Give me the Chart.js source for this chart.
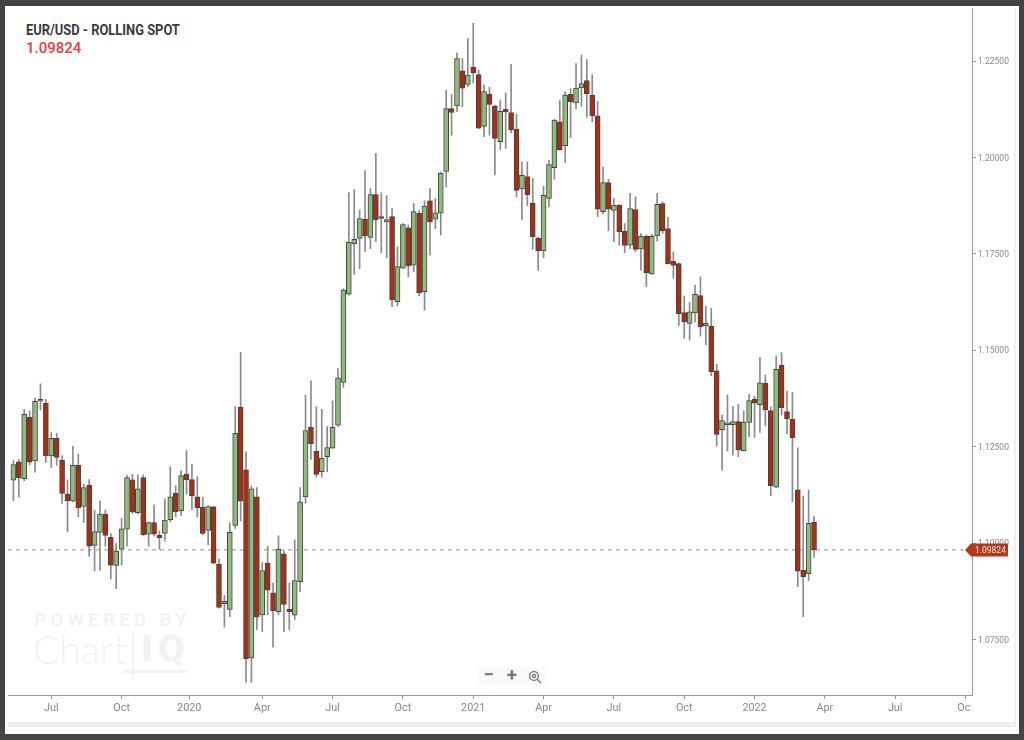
<!DOCTYPE html>
<html lang="en">
<head>
    <meta charset="UTF-8">
    <title>EUR/USD - Rolling Spot</title>
    <script src="https://cdn.jsdelivr.net/npm/chart.js"></script>
    <style>
        html, body { margin: 0; padding: 0; background: #444; }
        body { width: 1024px; height: 740px; overflow: hidden; position: relative; font-family: Roboto, sans-serif; }
        .frame { position: absolute; left: 5px; top: 6px; width: 1014px; height: 728px; background: #fff; }
        .strip { position: absolute; background: #f0f0f0; }
        .title { position: absolute; left: 26px; top: 21px; font-size: 15px; font-weight: 700; color: #3a3a3a; white-space: nowrap; transform: scaleX(0.86); transform-origin: left top; }
        .last { position: absolute; left: 26px; top: 39px; font-size: 15px; font-weight: 500; color: #e8403c; }
        .wm { position: absolute; color: #f3f3f3; white-space: nowrap; }
        .zoom { position: absolute; left: 478px; top: 667px; width: 68px; height: 18px; background: #fafafa; border-radius: 2px; color: #777; }
        .zoom span { position: absolute; top: -2px; width: 22px; text-align: center; font-size: 19px; font-weight: 700; line-height: 20px; }
        .zoom svg { position: absolute; left: 50px; top: 3px; }
        canvas { position: absolute; left: 0; top: 0; }
    </style>
</head>
<body>
    <div class="frame"></div>
    <div class="strip" style="left:8px;top:722px;width:1006px;height:5px"></div>
    <div class="strip" style="left:1014px;top:8px;width:2px;height:719px"></div>
    <div class="wm" style="left:34px;top:608px;font-size:19px;font-weight:700;letter-spacing:4.1px;">POWERED BY</div>
    <div class="wm" style="left:33px;top:626px;font-size:39px;font-weight:300;font-family:Lato,sans-serif;">Chart</div>
    <div class="wm" style="left:141px;top:626px;font-size:39px;font-weight:900;letter-spacing:5px;">IQ</div>
    <div class="wm" style="left:132px;top:634px;width:2px;height:46px;background:#f3f3f3;"></div>
    <div class="wm" style="left:123px;top:670px;width:64px;height:3px;background:#f3f3f3;"></div>
    <div class="title">EUR/USD - ROLLING SPOT</div>
    <div class="last">1.09824</div>
    <canvas id="chart" width="1024" height="740"></canvas>
    <div class="zoom">
        <span style="left:0">−</span>
        <span style="left:23px">+</span>
        <svg width="14" height="14" viewBox="0 0 14 14" fill="none" stroke="#777" stroke-width="1.4"><circle cx="6" cy="6" r="4.4"/><circle cx="6" cy="6" r="1.6"/><path d="M9.4 9.4 L13 13"/></svg>
    </div>

    <script>
        const lastPrice = 1.09824;

        const opens = [
            1.1163,1.1211,1.1167,1.1326,1.1213,1.1368,1.1363,1.1226,1.1272,1.1215,
            1.1127,1.1109,1.1202,1.1095,1.1150,1.0994,1.1028,1.1075,1.1015,1.0942,
            1.0984,1.1036,1.1164,1.1079,1.1170,1.1023,1.1053,1.1020,1.1025,1.1061,
            1.1129,1.1084,1.1179,1.1165,1.1120,1.1093,1.1033,1.1094,1.0945,1.0843,
            1.0828,1.1046,1.1352,1.1190,1.0702,1.1120,1.0814,1.0948,1.0871,1.0822,
            1.0972,1.0828,1.0813,1.0900,1.1120,1.1300,1.1238,1.1185,1.1224,1.1246,
            1.1306,1.1417,1.1646,1.1776,1.1790,1.1840,1.1793,1.1904,1.1847,1.1833,
            1.1847,1.1626,1.1713,1.1818,1.1721,1.1856,1.1652,1.1888,1.1840,1.1856,
            1.1964,1.2127,1.2134,1.2225,1.2190,1.2234,1.2215,1.2081,1.2165,1.2133,
            1.2041,1.2125,1.2117,1.2073,1.1919,1.1951,1.1882,1.1791,1.1758,1.1894,
            1.1974,1.2093,1.2031,1.2164,1.2142,1.2181,1.2200,1.2162,1.2108,1.1860,
            1.1935,1.1863,1.1877,1.1809,1.1773,1.1865,1.1763,1.1796,1.1698,1.1797,
            1.1881,1.1816,1.1731,1.1725,1.1598,1.1570,1.1597,1.1642,1.1564,1.1562,
            1.1447,1.1294,1.1307,1.1307,1.1315,1.1240,1.1313,1.1373,1.1359,1.1415,
            1.1344,1.1145,1.1461,1.1341,1.1321,1.1138,1.0930,1.0921,1.1054
        ];
        const highs = [
            1.1214,1.1217,1.1347,1.1343,1.1377,1.1413,1.1373,1.1287,1.1285,1.1227,
            1.1164,1.1251,1.1231,1.1153,1.1165,1.1085,1.1109,1.1086,1.1025,1.0999,
            1.1064,1.1176,1.1178,1.1177,1.1177,1.1055,1.1099,1.1032,1.1115,1.1198,
            1.1149,1.1188,1.1240,1.1205,1.1172,1.1119,1.1097,1.1096,1.0959,1.0864,
            1.1053,1.1354,1.1495,1.1237,1.1148,1.1144,1.0950,1.0992,1.0897,1.1019,
            1.0980,1.0897,1.1008,1.1144,1.1384,1.1421,1.1354,1.1347,1.1302,1.1369,
            1.1453,1.1660,1.1909,1.1917,1.1864,1.1966,1.1920,1.2011,1.1909,1.1901,
            1.1868,1.1769,1.1829,1.1825,1.1881,1.1864,1.1888,1.1920,1.1894,1.1962,
            1.2175,1.2164,1.2272,1.2257,1.2309,1.2348,1.2227,1.2188,1.2182,1.2136,
            1.2149,1.2168,1.2242,1.2113,1.1989,1.1989,1.1946,1.1793,1.1926,1.1993,
            1.2099,1.2149,1.2171,1.2179,1.2244,1.2266,1.2254,1.2215,1.2146,1.1976,
            1.1944,1.1894,1.1878,1.1829,1.1907,1.1898,1.1803,1.1799,1.1801,1.1907,
            1.1885,1.1845,1.1755,1.1727,1.1641,1.1624,1.1669,1.1691,1.1615,1.1609,
            1.1464,1.1332,1.1384,1.1355,1.1360,1.1343,1.1386,1.1381,1.1482,1.1436,
            1.1354,1.1485,1.1494,1.1395,1.1391,1.1247,1.1122,1.1138,1.1070
        ];
        const lows = [
            1.1110,1.1119,1.1162,1.1203,1.1184,1.1345,1.1209,1.1196,1.1202,1.1103,
            1.1029,1.1107,1.1068,1.1053,1.0966,1.0928,1.0930,1.0992,1.0907,1.0882,
            1.0943,1.0992,1.1077,1.1075,1.1020,1.0992,1.1018,1.0984,1.1005,1.1055,
            1.1068,1.1071,1.1127,1.1087,1.1068,1.1022,1.0995,1.0946,1.0831,1.0782,
            1.0809,1.1038,1.1057,1.0639,1.0639,1.0775,1.0770,1.0814,1.0730,1.0814,
            1.0770,1.0776,1.0802,1.0874,1.1103,1.1217,1.1171,1.1171,1.1185,1.1246,
            1.1302,1.1404,1.1643,1.1697,1.1712,1.1756,1.1764,1.1782,1.1753,1.1740,
            1.1613,1.1616,1.1712,1.1691,1.1704,1.1641,1.1604,1.1747,1.1816,1.1799,
            1.1924,1.2058,1.2119,1.2132,1.2184,1.2194,1.2075,1.2054,1.2058,1.1955,
            1.2021,1.2024,1.2064,1.1898,1.1838,1.1875,1.1762,1.1707,1.1740,1.1872,
            1.1944,1.2019,1.1987,1.2052,1.2127,1.2133,1.2104,1.2093,1.1847,1.1854,
            1.1810,1.1782,1.1773,1.1753,1.1764,1.1756,1.1708,1.1665,1.1697,1.1783,
            1.1803,1.1724,1.1687,1.1564,1.1531,1.1527,1.1574,1.1537,1.1515,1.1434,
            1.1252,1.1189,1.1239,1.1228,1.1224,1.1239,1.1276,1.1274,1.1287,1.1304,
            1.1123,1.1144,1.1332,1.1283,1.1107,1.0887,1.0809,1.0903,1.0963
        ];
        const closes = [
            1.1204,1.1170,1.1334,1.1210,1.1368,1.1373,1.1226,1.1272,1.1222,1.1129,
            1.1110,1.1202,1.1092,1.1144,1.0992,1.1030,1.1075,1.1020,1.0943,1.0979,
            1.1037,1.1170,1.1081,1.1141,1.1022,1.1053,1.1023,1.1014,1.1060,1.1120,
            1.1081,1.1175,1.1164,1.1123,1.1092,1.1025,1.1095,1.0948,1.0833,1.0849,
            1.1028,1.1285,1.1109,1.0700,1.1141,1.0808,1.0929,1.0878,1.0825,1.0984,
            1.0841,1.0822,1.0903,1.1107,1.1292,1.1258,1.1178,1.1220,1.1248,1.1300,
            1.1429,1.1656,1.1780,1.1788,1.1842,1.1797,1.1904,1.1839,1.1842,1.1839,
            1.1631,1.1717,1.1826,1.1719,1.1860,1.1649,1.1874,1.1833,1.1857,1.1960,
            1.2127,1.2117,1.2257,1.2180,1.2214,1.2220,1.2076,1.2171,1.2138,1.2050,
            1.2120,1.2119,1.2072,1.1915,1.1954,1.1904,1.1795,1.1758,1.1902,1.1982,
            1.2097,1.2020,1.2162,1.2145,1.2180,1.2192,1.2166,1.2108,1.1866,1.1935,
            1.1866,1.1877,1.1807,1.1772,1.1868,1.1762,1.1796,1.1701,1.1796,1.1879,
            1.1810,1.1725,1.1720,1.1595,1.1574,1.1600,1.1645,1.1561,1.1570,1.1444,
            1.1282,1.1318,1.1312,1.1315,1.1242,1.1314,1.1370,1.1363,1.1416,1.1346,
            1.1149,1.1451,1.1351,1.1322,1.1273,1.0927,1.0913,1.1051,1.09824
        ];

        // x axis counts weeks from the first candle
        const tickWeeks = [7, 20, 32.5, 46, 59, 72, 85, 98, 111, 124, 137, 150, 163, 176];
        const tickLabels = ['Jul', 'Oct', '2020', 'Apr', 'Jul', 'Oct', '2021', 'Apr', 'Jul', 'Oct', '2022', 'Apr', 'Jul', 'Oct'];
        const priceTicks = [1.075, 1.1, 1.125, 1.15, 1.175, 1.2, 1.225];

        const GREEN = '#8fbc7c';
        const RED = '#a92f14';
        const AXIS = '#999';
        const TEXT = '#888';

        const wicks = opens.map((_, i) => ({ x: i, y: [lows[i], highs[i]] }));
        const bodies = opens.map((o, i) => ({ x: i, y: [o, closes[i]] }));
        const bodyColors = opens.map((o, i) => closes[i] >= o ? GREEN : RED);

        // price tag on the axis, and the clipped last x label
        const overlay = {
            id: 'overlay',
            afterDraw(chart) {
                const { ctx, scales } = chart;
                const y = scales.y.getPixelForValue(lastPrice);
                ctx.save();
                ctx.fillStyle = '#fff';
                ctx.fillRect(971, 698, 14, 22);
                ctx.fillStyle = '#b03a1e';
                ctx.beginPath();
                ctx.moveTo(965, y);
                ctx.lineTo(971, y - 6.5);
                ctx.lineTo(1008, y - 6.5);
                ctx.lineTo(1008, y + 6.5);
                ctx.lineTo(971, y + 6.5);
                ctx.closePath();
                ctx.fill();
                ctx.fillStyle = '#f2e3de';
                ctx.font = '8.5px Roboto';
                ctx.textAlign = 'left';
                ctx.textBaseline = 'middle';
                ctx.fillText(lastPrice.toFixed(5), 975, y + 0.5);
                ctx.restore();
            }
        };

        new Chart(document.getElementById('chart'), {
            type: 'bar',
            data: {
                datasets: [
                    {
                        type: 'line',
                        data: [{ x: -1, y: lastPrice }, { x: 175.9, y: lastPrice }],
                        borderColor: 'rgba(170, 110, 100, 0.85)',
                        borderWidth: 1,
                        borderDash: [4, 4],
                        pointRadius: 0,
                        order: 3
                    },
                    {
                        data: wicks,
                        backgroundColor: '#8a8a8a',
                        borderWidth: 0,
                        barThickness: 1,
                        grouped: false,
                        order: 2
                    },
                    {
                        data: bodies,
                        backgroundColor: bodyColors,
                        borderColor: '#444',
                        borderWidth: 1,
                        borderSkipped: false,
                        barThickness: 5,
                        grouped: false,
                        order: 1
                    }
                ]
            },
            options: {
                responsive: false,
                animation: false,
                layout: { padding: { left: 8, top: 8, right: 0, bottom: 0 } },
                plugins: { legend: { display: false }, tooltip: { enabled: false } },
                scales: {
                    x: {
                        type: 'linear',
                        offset: false,
                        min: -1,
                        max: 177.2,
                        afterBuildTicks: scale => { scale.ticks = tickWeeks.map(v => ({ value: v })); },
                        afterFit: scale => { scale.height = 45; },
                        ticks: {
                            autoSkip: false,
                            maxRotation: 0,
                            color: TEXT,
                            font: { family: 'Roboto', size: 10.8 },
                            padding: 3,
                            callback: (value, index) => tickLabels[index]
                        },
                        grid: { drawOnChartArea: false, offset: false, tickLength: 4, tickColor: AXIS },
                        border: { color: AXIS, width: 1 }
                    },
                    y: {
                        position: 'right',
                        min: 1.0606,
                        max: 1.2388,
                        afterBuildTicks: scale => { scale.ticks = priceTicks.map(v => ({ value: v })); },
                        afterFit: scale => { scale.width = 52; },
                        ticks: {
                            color: TEXT,
                            font: { family: 'Roboto', size: 8.5 },
                            padding: 2,
                            labelOffset: 1,
                            callback: value => value.toFixed(5)
                        },
                        grid: { drawOnChartArea: false, tickLength: 4, tickColor: AXIS },
                        border: { color: AXIS, width: 1 }
                    }
                }
            },
            plugins: [overlay]
        });
    </script>
</body>
</html>
